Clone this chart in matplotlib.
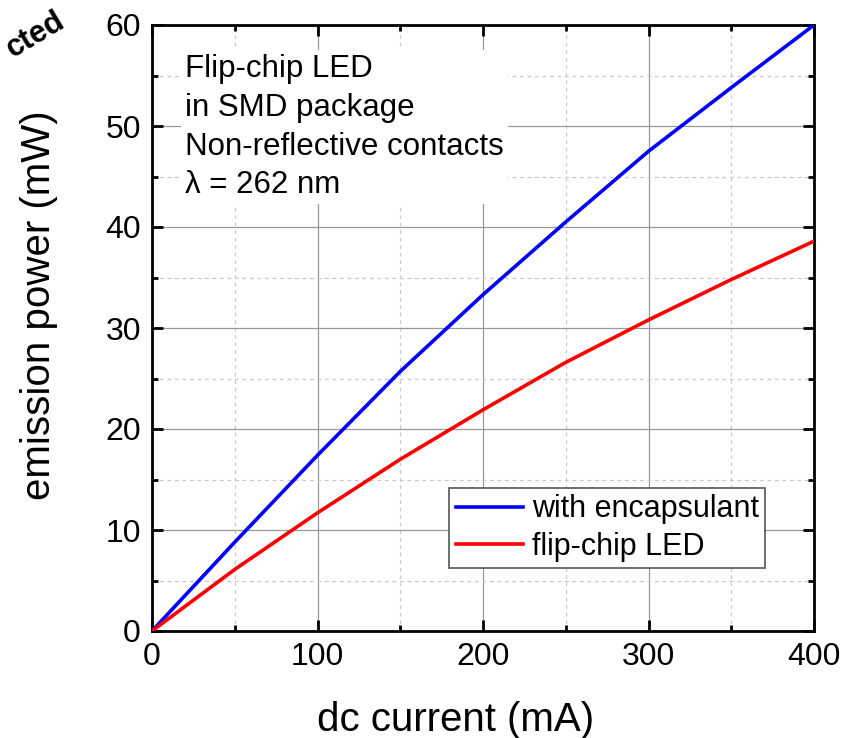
import numpy as np
import matplotlib.pyplot as plt
from matplotlib.ticker import MultipleLocator

plt.rcParams['font.family'] = ['Liberation Sans', 'DejaVu Sans']

current = [0, 50, 100, 150, 200, 250, 300, 350, 400]
p_encaps = [0, 8.8, 17.4, 25.7, 33.3, 40.5, 47.5, 53.8, 60.0]
p_flip = [0, 6.1, 11.7, 17.0, 21.9, 26.6, 30.8, 34.8, 38.6]

fig = plt.figure(figsize=(8.61, 7.38), dpi=100)
ax = fig.add_axes([152/861, 1-631/738, 662/861, 606/738])

ax.plot(current, p_encaps, color='#0000ff', lw=2.6, label='with encapsulant', zorder=3)
ax.plot(current, p_flip, color='#ff0000', lw=2.6, label='flip-chip LED', zorder=3)

ax.set_xlim(0, 400)
ax.set_ylim(0, 60)
ax.xaxis.set_major_locator(MultipleLocator(100))
ax.xaxis.set_minor_locator(MultipleLocator(50))
ax.yaxis.set_major_locator(MultipleLocator(10))
ax.yaxis.set_minor_locator(MultipleLocator(5))
ax.grid(which='major', color='#999999', lw=0.9, ls='-')
ax.grid(which='minor', color='#c8c8c8', lw=0.9, ls=(0, (3, 3)))
ax.set_axisbelow(True)

ax.tick_params(which='both', direction='in', top=True, right=True, labelsize=23, width=2, pad=8)
ax.tick_params(which='major', length=8)
ax.tick_params(which='minor', length=4)
for s in ax.spines.values():
    s.set_linewidth(2)

ax.set_xlabel('dc current (mA)', fontsize=29)
ax.set_ylabel('emission power (mW)', fontsize=29)
ax.xaxis.set_label_coords(0.458, -0.115)
ax.yaxis.set_label_coords(-0.142, 0.538)

ax.text(0.05, 0.952, 'Flip-chip LED\nin SMD package\nNon-reflective contacts\n\u03bb = 262 nm',
        transform=ax.transAxes, fontsize=22.5, va='top', ha='left', linespacing=1.38,
        bbox=dict(facecolor='white', edgecolor='none', pad=3), zorder=4)

leg = ax.legend(loc='lower right', bbox_to_anchor=(0.926, 0.104), fontsize=22,
                frameon=True, fancybox=False, edgecolor='#555555', handlelength=2.2,
                handletextpad=0.3, borderpad=0.2, labelspacing=0.25, borderaxespad=0,
                framealpha=1)
leg.get_frame().set_linewidth(1.2)

fig.text(0.5/861, 1-64/738, 'cted', rotation=31, fontsize=22, fontweight='bold',
         ha='left', va='bottom')

fig.savefig('out.png', dpi=100)
